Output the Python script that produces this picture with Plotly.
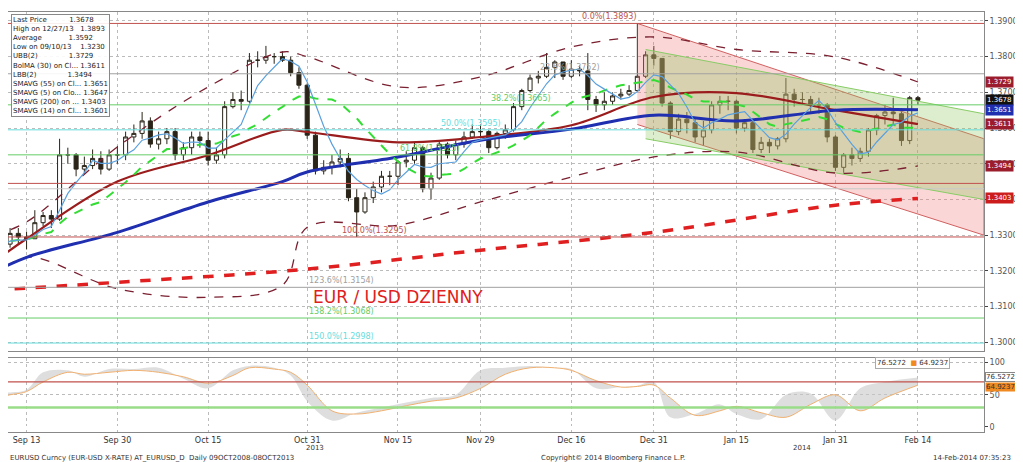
import pandas as pd
import plotly.graph_objects as go
from plotly.subplots import make_subplots

fnt = "DejaVu Sans"

# ---------------- data ----------------
dates = [d for d in pd.bdate_range("2013-09-09", "2014-02-14")
         if d.strftime("%m-%d") not in ("12-25", "01-01")]

close = [1.3270, 1.3275, 1.3305, 1.3295, 1.3290, 1.3335, 1.3355, 1.3345, 1.3525, 1.3525, 1.3485, 1.3495, 1.3515, 1.3485, 1.3525, 1.3525,
         1.3575, 1.3585, 1.3620, 1.3555, 1.3570, 1.3590, 1.3525, 1.3545, 1.3575, 1.3565, 1.3510, 1.3525, 1.3660, 1.3680, 1.3675, 1.3790, 1.3790, 1.3800, 1.3800, 1.3790, 1.3755, 1.3720, 1.3580,
         1.3480, 1.3490, 1.3505, 1.3515, 1.3405, 1.3365, 1.3405, 1.3435, 1.3465, 1.3465, 1.3505, 1.3510, 1.3545, 1.3430, 1.3460, 1.3555, 1.3525, 1.3555, 1.3575, 1.3590, 1.3590,
         1.3545, 1.3585, 1.3595, 1.3660, 1.3705, 1.3740, 1.3745, 1.3770, 1.3785, 1.3745, 1.3765, 1.3760, 1.3680, 1.3665, 1.3675, 1.3690, 1.3695, 1.3705, 1.3745, 1.3805, 1.3795,
         1.3670, 1.3590, 1.3625, 1.3615, 1.3575, 1.3595, 1.3665, 1.3675, 1.3675, 1.3600, 1.3615, 1.3540, 1.3560, 1.3550, 1.3570, 1.3695, 1.3680, 1.3680, 1.3665, 1.3665, 1.3575, 1.3490,
         1.3525, 1.3515, 1.3535, 1.3595, 1.3635, 1.3645, 1.3640, 1.3565, 1.3685, 1.3678]
high = [1.3285, 1.3300, 1.3320, 1.3320, 1.3310, 1.3370, 1.3365, 1.3370, 1.3570, 1.3545, 1.3530, 1.3520, 1.3540, 1.3535, 1.3540, 1.3550,
        1.3590, 1.3610, 1.3645, 1.3630, 1.3590, 1.3600, 1.3600, 1.3560, 1.3590, 1.3590, 1.3590, 1.3545, 1.3675, 1.3700, 1.3705, 1.3810, 1.3815, 1.3830, 1.3810, 1.3815, 1.3800, 1.3770, 1.3725,
        1.3590, 1.3510, 1.3525, 1.3540, 1.3530, 1.3430, 1.3420, 1.3450, 1.3480, 1.3480, 1.3510, 1.3535, 1.3560, 1.3550, 1.3475, 1.3565, 1.3560, 1.3565, 1.3590, 1.3610, 1.3610,
        1.3595, 1.3590, 1.3610, 1.3670, 1.3710, 1.3750, 1.3760, 1.3810, 1.3790, 1.3780, 1.3790, 1.3775, 1.3810, 1.3690, 1.3700, 1.3700, 1.3710, 1.3720, 1.3893, 1.3815, 1.3830,
        1.3795, 1.3675, 1.3640, 1.3645, 1.3625, 1.3620, 1.3675, 1.3690, 1.3690, 1.3680, 1.3625, 1.3620, 1.3575, 1.3570, 1.3575, 1.3740, 1.3710, 1.3700, 1.3690, 1.3685, 1.3670, 1.3580,
        1.3530, 1.3545, 1.3545, 1.3600, 1.3640, 1.3665, 1.3685, 1.3655, 1.3690, 1.3690]
low = [1.3240, 1.3250, 1.3265, 1.3275, 1.3260, 1.3290, 1.3325, 1.3320, 1.3340, 1.3500, 1.3465, 1.3470, 1.3485, 1.3470, 1.3480, 1.3500,
       1.3510, 1.3560, 1.3570, 1.3545, 1.3540, 1.3555, 1.3510, 1.3510, 1.3525, 1.3545, 1.3495, 1.3500, 1.3515, 1.3655, 1.3650, 1.3670, 1.3770, 1.3780, 1.3780, 1.3785, 1.3745, 1.3710, 1.3570,
       1.3470, 1.3470, 1.3470, 1.3490, 1.3395, 1.3295, 1.3360, 1.3390, 1.3420, 1.3440, 1.3440, 1.3490, 1.3500, 1.3420, 1.3400, 1.3455, 1.3515, 1.3510, 1.3545, 1.3570, 1.3575,
       1.3530, 1.3540, 1.3570, 1.3590, 1.3650, 1.3700, 1.3725, 1.3740, 1.3740, 1.3735, 1.3740, 1.3745, 1.3650, 1.3645, 1.3650, 1.3665, 1.3680, 1.3690, 1.3700, 1.3740, 1.3775,
       1.3660, 1.3570, 1.3580, 1.3585, 1.3560, 1.3550, 1.3585, 1.3640, 1.3650, 1.3585, 1.3590, 1.3530, 1.3530, 1.3530, 1.3540, 1.3560, 1.3660, 1.3665, 1.3645, 1.3640, 1.3560, 1.3480,
       1.3475, 1.3495, 1.3505, 1.3520, 1.3580, 1.3610, 1.3610, 1.3550, 1.3555, 1.3665]
open_ = [1.3255] + close[:-1]

# indicator curves read at key dates
ind_dates = ["2013-09-09", "2013-09-13", "2013-09-30", "2013-10-15", "2013-10-28", "2013-10-31", "2013-11-15",
             "2013-11-29", "2013-12-16", "2013-12-31", "2014-01-15", "2014-01-31", "2014-02-14"]
sma55 = [1.3196, 1.3238, 1.3308, 1.3393, 1.3450, 1.3477, 1.3519, 1.3566, 1.3597, 1.3636, 1.3620, 1.3650, 1.3651]
bolma30 = [1.3225, 1.3290, 1.3450, 1.3524, 1.3595, 1.3589, 1.3560, 1.3575, 1.3608, 1.3687, 1.3698, 1.3650, 1.3611]
ubb = [1.3300, 1.3337, 1.3547, 1.3715, 1.3813, 1.3800, 1.3715, 1.3743, 1.3827, 1.3855, 1.3820, 1.3799, 1.3729]
lbb = [1.3180, 1.3238, 1.3150, 1.3126, 1.3160, 1.3322, 1.3328, 1.3393, 1.3463, 1.3519, 1.3533, 1.3474, 1.3494]
sma200_dates = ["2013-09-09", "2013-09-30", "2013-10-31", "2013-11-29", "2013-12-31", "2014-01-31", "2014-02-14"]
sma200 = [1.3146, 1.3168, 1.3205, 1.3258, 1.3308, 1.3384, 1.3403]

fib_levels = [1.3893, 1.3752, 1.3665, 1.3595, 1.3525, 1.3295, 1.3154, 1.3068, 1.2998]
fib_labels = ["0.0%(1.3893)", "23.6%(1.3752)", "38.2%(1.3665)", "50.0%(1.3595)", "61.8%(1.3525)",
              "100.0%(1.3295)", "123.6%(1.3154)", "138.2%(1.3068)", "150.0%(1.2998)"]
fib_label_dates = ["2013-12-17", "2013-12-10", "2013-12-02", "2013-11-22", "2013-11-15",
                   "2013-11-06", "2013-10-31", "2013-10-31", "2013-10-31"]
fib_colors = ["#c0504d", "#a0a0a0", "#66cc66", "#66dddd", "#66cc66", "#c0504d", "#a0a0a0", "#66cc66", "#66dddd"]

red_ch_x = ["2013-12-27", "2014-02-26", "2014-02-26", "2013-12-27"]
red_ch_y = [1.3893, 1.3570, 1.3300, 1.3610]
green_ch_x = ["2013-12-30", "2014-02-26", "2014-02-26", "2013-12-30"]
green_ch_y = [1.3820, 1.3640, 1.3400, 1.3570]

st_dates = ["2013-09-09", "2013-09-10", "2013-09-13", "2013-09-17", "2013-09-20", "2013-09-24", "2013-09-27",
            "2013-10-02", "2013-10-07", "2013-10-10", "2013-10-15", "2013-10-18", "2013-10-22", "2013-10-25",
            "2013-10-29", "2013-10-31", "2013-11-05", "2013-11-08", "2013-11-13", "2013-11-18", "2013-11-21",
            "2013-11-26", "2013-11-29", "2013-12-04", "2013-12-09", "2013-12-12", "2013-12-16", "2013-12-19",
            "2013-12-24", "2013-12-27", "2013-12-31", "2014-01-03", "2014-01-08", "2014-01-13", "2014-01-15",
            "2014-01-20", "2014-01-23", "2014-01-28", "2014-01-31", "2014-02-05", "2014-02-10", "2014-02-14"]
stoch_d = [20, 45, 55, 70, 85, 82, 85, 88, 85, 78, 68, 80, 92, 90, 85, 65, 25, 20, 25, 33, 40,
           45, 60, 82, 92, 92, 88, 72, 62, 63, 65, 45, 18, 25, 32, 22, 15, 35, 50, 25, 45, 65]
stoch_k = [25, 50, 58, 85, 88, 78, 90, 90, 92, 75, 60, 88, 95, 92, 80, 40, 10, 22, 30, 38, 45,
           50, 88, 92, 95, 92, 90, 60, 62, 64, 70, 15, 20, 35, 20, 12, 50, 52, 10, 60, 70, 77]

tick_dates = ["2013-09-13", "2013-09-30", "2013-10-15", "2013-10-31", "2013-11-15", "2013-11-29",
              "2013-12-16", "2013-12-31", "2014-01-15", "2014-01-31", "2014-02-14"]
tick_text = ["Sep 13", "Sep 30", "Oct 15", "Oct 31", "Nov 15", "Nov 29", "Dec 16", "Dec 31", "Jan 15", "Jan 31", "Feb 14"]
price_ticks = [1.30, 1.31, 1.32, 1.33, 1.34, 1.35, 1.36, 1.37, 1.38, 1.39]
price_ticktext = ["1.3000", "1.3100", "1.3200", "1.3300", "1.3400", "1.3500", "1.3600", "1.3700", "1.3800", "1.3900"]

df = pd.DataFrame({"date": dates, "open": open_, "high": high, "low": low, "close": close})
df["sma5"] = df["close"].rolling(5, min_periods=1).mean()
df["sma14"] = df["close"].rolling(14, min_periods=1).mean()

# ---------------- figure ----------------
fig = make_subplots(rows=2, cols=1, shared_xaxes=True, vertical_spacing=0.015, row_heights=[0.82, 0.18])

fig.add_trace(go.Scatter(x=red_ch_x, y=red_ch_y, fill="toself", fillcolor="rgba(240,120,120,0.3)",
                         line=dict(color="#d06060", width=1), mode="lines", hoverinfo="skip"), row=1, col=1)
fig.add_trace(go.Scatter(x=green_ch_x, y=green_ch_y, fill="toself", fillcolor="rgba(140,200,90,0.3)",
                         line=dict(color="#88cc66", width=1), mode="lines", hoverinfo="skip"), row=1, col=1)

for lvl, c in zip(fib_levels, fib_colors):
    fig.add_hline(y=lvl, line=dict(color=c, width=1), row=1, col=1)
fig.add_hline(y=1.3445, line=dict(color="#c0504d", width=1), row=1, col=1)
fig.add_hline(y=1.3430, line=dict(color="#c8c8c8", width=1), row=1, col=1)
for t, lbl, c, lvl in zip(fib_label_dates, fib_labels, fib_colors, fib_levels):
    fig.add_annotation(x=t, y=lvl, text=lbl, showarrow=False, yanchor="bottom", xanchor="left",
                       font=dict(family=fnt, size=8, color=c), row=1, col=1)

fig.add_trace(go.Scatter(x=ind_dates, y=ubb, mode="lines", line=dict(color="#7a2030", width=1.3, dash="dash", shape="spline")), row=1, col=1)
fig.add_trace(go.Scatter(x=ind_dates, y=lbb, mode="lines", line=dict(color="#7a2030", width=1.3, dash="dash", shape="spline")), row=1, col=1)
fig.add_trace(go.Scatter(x=sma200_dates, y=sma200, mode="lines", line=dict(color="#e02020", width=3.5, dash="dash", shape="spline")), row=1, col=1)
fig.add_trace(go.Scatter(x=ind_dates, y=bolma30, mode="lines", line=dict(color="#9b1c1c", width=2.2, shape="spline")), row=1, col=1)
fig.add_trace(go.Scatter(x=ind_dates, y=sma55, mode="lines", line=dict(color="#1f2fb0", width=3, shape="spline")), row=1, col=1)
fig.add_trace(go.Scatter(x=df["date"], y=df["sma14"], mode="lines", line=dict(color="#33dd33", width=2, dash="dash")), row=1, col=1)
fig.add_trace(go.Scatter(x=df["date"], y=df["sma5"], mode="lines", line=dict(color="#5aa0dd", width=1.2)), row=1, col=1)

fig.add_trace(go.Candlestick(x=df["date"], open=df["open"], high=df["high"], low=df["low"], close=df["close"],
                             increasing=dict(line=dict(color="#2a2418", width=1), fillcolor="white"),
                             decreasing=dict(line=dict(color="#2a2418", width=1), fillcolor="#2a2418"),
                             whiskerwidth=0), row=1, col=1)

# stochastic panel
fig.add_trace(go.Scatter(x=st_dates, y=stoch_d, mode="lines", line=dict(color="#f0b070", width=1, shape="spline")), row=2, col=1)
fig.add_trace(go.Scatter(x=st_dates, y=stoch_k, mode="lines", line=dict(color="rgba(0,0,0,0)", shape="spline"),
                         fill="tonexty", fillcolor="rgba(200,200,200,0.6)"), row=2, col=1)
fig.add_hline(y=70, line=dict(color="#c0504d", width=1.2), row=2, col=1)
fig.add_hline(y=30, line=dict(color="#99dd88", width=2.5), row=2, col=1)

fig.update_xaxes(range=["2013-09-10 18:00", "2014-02-26"], rangebreaks=[dict(bounds=["sat", "mon"]),
                 dict(values=["2013-12-25", "2014-01-01"])],
                 tickvals=tick_dates, ticktext=tick_text, showgrid=True, gridcolor="#bbbbbb", griddash="dot",
                 rangeslider_visible=False, showline=True, linecolor="#888", mirror=True,
                 tickfont=dict(family=fnt, size=8, color="#333"))
fig.update_xaxes(showticklabels=False, row=1, col=1)
fig.update_yaxes(side="right", range=[1.2975, 1.3925], tickvals=price_ticks, ticktext=price_ticktext, showgrid=True,
                 gridcolor="#bbbbbb", griddash="dot", ticks="outside", ticklen=3, showline=True, linecolor="#888",
                 mirror=True, tickfont=dict(family=fnt, size=8, color="#555"), row=1, col=1)
fig.update_yaxes(side="right", range=[-8, 108], tickvals=[0, 50, 100], showgrid=True, gridcolor="#bbbbbb",
                 griddash="dot", ticks="outside", ticklen=3, showline=True, linecolor="#888", mirror=True,
                 tickfont=dict(family=fnt, size=8, color="#555"), row=2, col=1)

# price tags on right axis
tags = [(1.3729, "#9b1c2c"), (1.3678, "#111111"), (1.3651, "#1f2fb0"), (1.3611, "#9b1c2c"),
        (1.3494, "#9b1c2c"), (1.3403, "#cc1c1c")]
for v, c in tags:
    fig.add_annotation(x=1.001, xref="paper", y=v, yref="y", text=f"{v:.4f}", showarrow=False, xanchor="left",
                       bgcolor=c, font=dict(family=fnt, size=7, color="white"), borderpad=1)
fig.add_annotation(x=1.001, xref="paper", y=78, yref="y2", text="76.5272", showarrow=False, xanchor="left",
                   bgcolor="white", bordercolor="#888", font=dict(family=fnt, size=7, color="#333"), borderpad=0)
fig.add_annotation(x=1.001, xref="paper", y=62, yref="y2", text="64.9237", showarrow=False, xanchor="left",
                   bgcolor="#f08a20", font=dict(family=fnt, size=7, color="#333"), borderpad=0)
fig.add_annotation(x=0.965, xref="paper", y=100, yref="y2", text="76.5272  <span style='color:#f08a20'>■</span> 64.9237",
                   showarrow=False, xanchor="right", bgcolor="white", bordercolor="#aaa",
                   font=dict(family=fnt, size=7, color="#333"))

fig.add_annotation(x="2013-11-15", y=1.3128, xref="x", yref="y", text="EUR / USD DZIENNY", showarrow=False,
                   font=dict(family=fnt, size=17, color="#e02020"))

legend_txt = ("Last Price&nbsp;&nbsp;&nbsp;&nbsp;&nbsp;&nbsp;&nbsp;&nbsp;&nbsp;&nbsp;1.3678<br>High on 12/27/13&nbsp;&nbsp;&nbsp;1.3893<br>"
              "Average&nbsp;&nbsp;&nbsp;&nbsp;&nbsp;&nbsp;&nbsp;&nbsp;&nbsp;&nbsp;&nbsp;&nbsp;1.3592<br>Low on 09/10/13&nbsp;&nbsp;&nbsp;&nbsp;1.3230<br>"
              "UBB(2)&nbsp;&nbsp;&nbsp;&nbsp;&nbsp;&nbsp;&nbsp;&nbsp;&nbsp;&nbsp;&nbsp;&nbsp;&nbsp;&nbsp;1.3729<br>BolMA (30) on Cl... 1.3611<br>"
              "LBB(2)&nbsp;&nbsp;&nbsp;&nbsp;&nbsp;&nbsp;&nbsp;&nbsp;&nbsp;&nbsp;&nbsp;&nbsp;&nbsp;&nbsp;1.3494<br>SMAVG (55) on Cl... 1.3651<br>"
              "SMAVG (5) on Clo... 1.3647<br>SMAVG (200) on ... 1.3403<br>SMAVG (14) on Cl... 1.3601")
fig.add_annotation(x=0.003, y=0.995, xref="paper", yref="paper", text=legend_txt, showarrow=False, align="left",
                   xanchor="left", yanchor="top", bgcolor="rgba(255,255,255,0.9)", bordercolor="#888",
                   font=dict(family=fnt, size=7, color="#222"))

fig.add_annotation(x="2013-11-01", y=-0.052, xref="x2", yref="paper", text="2013", showarrow=False,
                   font=dict(family=fnt, size=7, color="#333"))
fig.add_annotation(x="2014-01-27", y=-0.052, xref="x2", yref="paper", text="2014", showarrow=False,
                   font=dict(family=fnt, size=7, color="#333"))
fig.add_annotation(x=0, y=-0.075, xref="paper", yref="paper", xanchor="left",
                   text="EURUSD Curncy (EUR-USD X-RATE) AT_EURUSD_D  Daily 09OCT2008-08OCT2013", showarrow=False,
                   font=dict(family=fnt, size=7, color="#333"))
fig.add_annotation(x=0.62, y=-0.075, xref="paper", yref="paper", text="Copyright© 2014 Bloomberg Finance L.P.",
                   showarrow=False, font=dict(family=fnt, size=7, color="#333"))
fig.add_annotation(x=1.03, y=-0.075, xref="paper", yref="paper", xanchor="right", text="14-Feb-2014 07:35:23",
                   showarrow=False, font=dict(family=fnt, size=7, color="#333"))

fig.update_layout(width=1023, height=462, plot_bgcolor="white", paper_bgcolor="white", showlegend=False,
                  margin=dict(l=0, r=47, t=4, b=38), hovermode=False)

fig.write_html("out.html", config={"displayModeBar": False})
